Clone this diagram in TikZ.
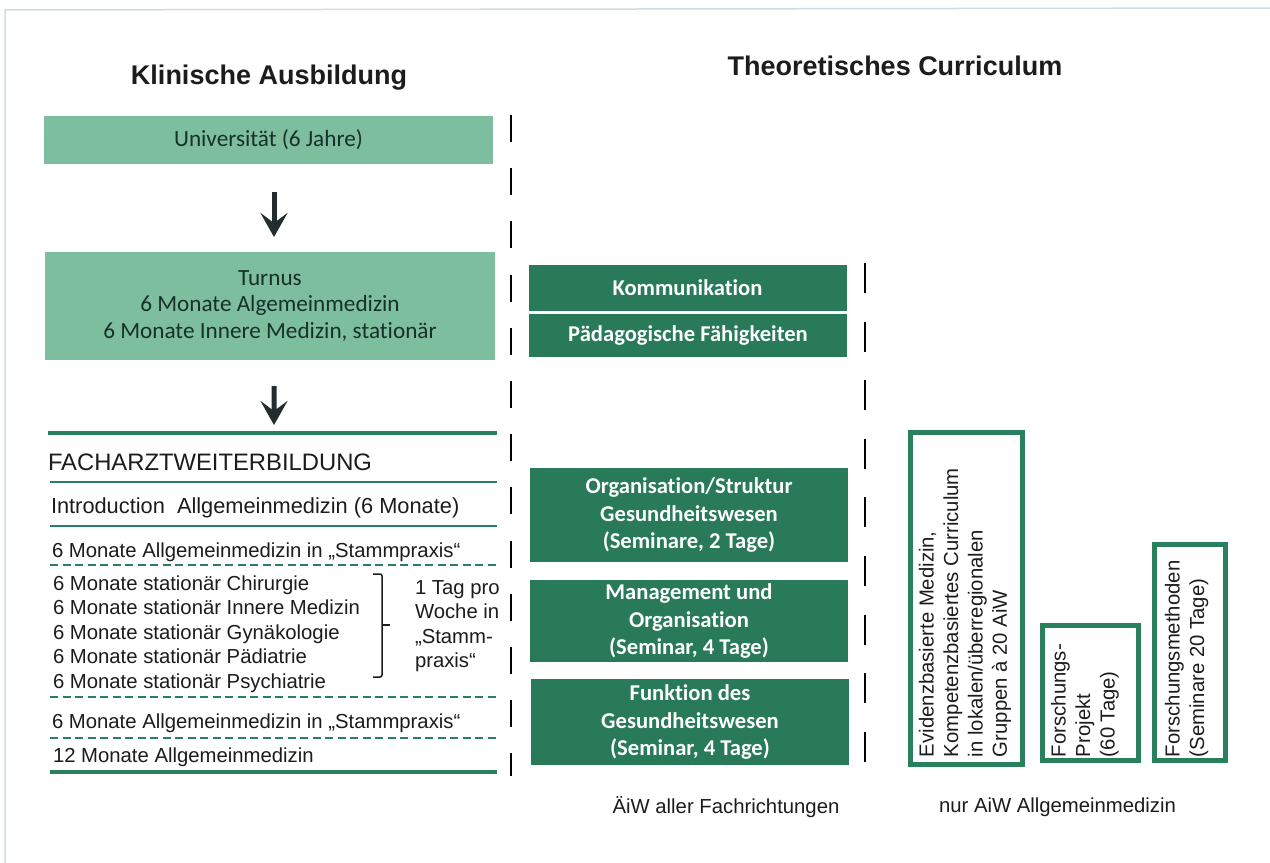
\documentclass[tikz,border=0pt]{standalone}
\usepackage{fontspec}
\setmainfont{Liberation Sans}
\newfontfamily\frut[Ligatures={NoCommon}]{Carlito}
\usetikzlibrary{arrows.meta}
\definecolor{lightg}{RGB}{125,190,158}
\definecolor{darkg}{RGB}{40,122,88}
\definecolor{lineg}{RGB}{40,128,92}
\definecolor{txt}{RGB}{28,28,28}
\definecolor{boxtxt}{RGB}{24,48,42}
\definecolor{arr}{RGB}{35,45,45}
\definecolor{scan}{RGB}{208,220,226}
\begin{document}
\begin{tikzpicture}[x=1bp,y=-1bp,
  every node/.style={inner sep=0pt, outer sep=0pt, text=txt},
  head/.style={anchor=base, font=\bfseries\fontsize{27bp}{32bp}\selectfont},
  lightbox/.style={fill=lightg, text=boxtxt, align=center, font=\frut\fontsize{23.2bp}{26.5bp}\selectfont},
  darkbox/.style={fill=darkg, text=white, align=center, font=\frut\bfseries\fontsize{22.6bp}{27.2bp}\selectfont, minimum width=318bp},
  item/.style={anchor=base west, font=\fontsize{20.3bp}{24.4bp}\selectfont},
  flow/.style={draw=arr, line width=5bp, -{Stealth[length=24bp, width=27bp, inset=10bp, fill=arr]}},
  thickrule/.style={draw=lineg, line width=4bp},
  thinrule/.style={draw=lineg, line width=2bp},
  dashrule/.style={draw=lineg, line width=2bp, dash pattern=on 8bp off 4.5bp},
  divider/.style={draw=black, line width=2.5bp},
  rbox/.style={draw=lineg, line width=5bp, fill=white, anchor=north west},
  rtext/.style={rotate=90, anchor=north west, align=left, font=\fontsize{20.3bp}{24.4bp}\selectfont},
]
\useasboundingbox[fill=white] (0,0) rectangle (1270,863);
\draw[scan, line width=1.5bp] (5,863) -- (5,10) -- (1270,8);

% headings
\node[head] (h1) at (269,84.5) {Klinische Ausbildung};
\node[head] (h2) at (895,75) {Theoretisches Curriculum};

% clinical flow
\node[lightbox, minimum width=449bp, minimum height=48bp] (uni) at (268.5,140) {Universität (6 Jahre)};
\node[lightbox, minimum width=450bp, minimum height=108bp] (turnus) at (270,306) {Turnus\\6 Monate Algemeinmedizin\\6 Monate Innere Medizin, stationär};
\coordinate (fwL) at (48,433);
\coordinate (fwR) at (497,433);
\coordinate (fwM) at (274,433);
\draw[flow, shorten <=28bp, shorten >=15bp] ([xshift=5.5bp]uni.south) -- ([xshift=4bp]turnus.north);
\draw[flow, shorten <=26bp, shorten >=8bp] ([xshift=4bp]turnus.south) -- (fwM);

% Facharztweiterbildung
\draw[thickrule] (fwL) -- (fwR);
\node[item, font=\fontsize{23.8bp}{28bp}\selectfont] (fw) at (48,470) {FACHARZTWEITERBILDUNG};
\coordinate (r1L) at (50,482); \coordinate (r1R) at (497,482);
\draw[thinrule] (r1L) -- (r1R);
\node[item, font=\fontsize{21.8bp}{26bp}\selectfont] (intro) at (51,513) {Introduction\ \ Allgemeinmedizin (6 Monate)};
\coordinate (r2L) at (50,526); \coordinate (r2R) at (497,526);
\draw[thinrule] (r2L) -- (r2R);
\node[item] (s1) at (52,557) {6 Monate Allgemeinmedizin in „Stammpraxis“};
\coordinate (r3L) at (50,565); \coordinate (r3R) at (497,565);
\draw[dashrule] (r3L) -- (r3R);
\node[item] (c1) at (53,590.5) {6 Monate stationär Chirurgie};
\node[item] (c2) at (53,614.9) {6 Monate stationär Innere Medizin};
\node[item] (c3) at (53,639.3) {6 Monate stationär Gynäkologie};
\node[item] (c4) at (53,663.7) {6 Monate stationär Pädiatrie};
\node[item] (c5) at (53,688.1) {6 Monate stationär Psychiatrie};
\draw[draw=txt, line width=1.5bp, rounded corners=2bp] (373,574) -- (382,574) -- (382,677) -- (373,677);
\draw[draw=txt, line width=1.5bp] (382,625) -- (390,625);
\node[item, align=left, anchor=north west] (tag) at (415,580.5) {1 Tag pro\\Woche in\\„Stamm-\\praxis“};
\coordinate (r4L) at (50,697); \coordinate (r4R) at (497,697);
\draw[dashrule] (r4L) -- (r4R);
\node[item] (s2) at (52,728) {6 Monate Allgemeinmedizin in „Stammpraxis“};
\coordinate (r5L) at (50,738); \coordinate (r5R) at (497,738);
\draw[dashrule] (r5L) -- (r5R);
\node[item] (m12) at (53,762) {12 Monate Allgemeinmedizin};
\coordinate (r6L) at (50,772); \coordinate (r6R) at (497,772);
\draw[thickrule] (r6L) -- (r6R);

% dividers
\coordinate (d1t) at (511,115); \coordinate (d1b) at (511,776);
\draw[divider, dash pattern=on 27bp off 26.2bp] (d1t) -- (d1b);
\coordinate (d2t) at (865,263); \coordinate (d2b) at (865,762);
\draw[divider, dash pattern=on 30bp off 28.6bp] (d2t) -- (d2b);

% theoretical curriculum, all
\node[darkbox, minimum height=46bp] (kom) at (687.5,288) {Kommunikation};
\node[darkbox, minimum height=43bp] (paed) at (688,335) {Pädagogische Fähigkeiten};
\node[darkbox, minimum height=94bp] (org) at (689,515) {Organisation/Struktur\\Gesundheitswesen\\(Seminare, 2 Tage)};
\node[darkbox, minimum height=82bp] (man) at (689,621) {Management und\\Organisation\\(Seminar, 4 Tage)};
\node[darkbox, minimum height=86bp] (fun) at (690,722) {Funktion des\\Gesundheitswesen\\(Seminar, 4 Tage)};
\node[item, anchor=base] (lab1) at (726,813) {ÄiW aller Fachrichtungen};

% theoretical curriculum, Allgemeinmedizin
\node[rbox, minimum width=112bp, minimum height=332bp] (ebm) at (910.5,432.5) {};
\node[rtext] (ebmt) at (919,757) {Evidenzbasierte Medizin,\\Kompetenzbasiertes Curriculum\\in lokalen/überregionalen\\Gruppen à 20 AiW};
\node[rbox, minimum width=96bp, minimum height=135bp] (fp) at (1042.5,625.5) {};
\node[rtext] (fpt) at (1051,757) {Forschungs-\\Projekt\\(60 Tage)};
\node[rbox, minimum width=71bp, minimum height=216bp] (fm) at (1154.5,544.5) {};
\node[rtext] (fmt) at (1165,757) {Forschungsmethoden\\(Seminare 20 Tage)};
\node[item, anchor=base] (lab2) at (1057.5,812) {nur AiW Allgemeinmedizin};
\end{tikzpicture}
\end{document}
